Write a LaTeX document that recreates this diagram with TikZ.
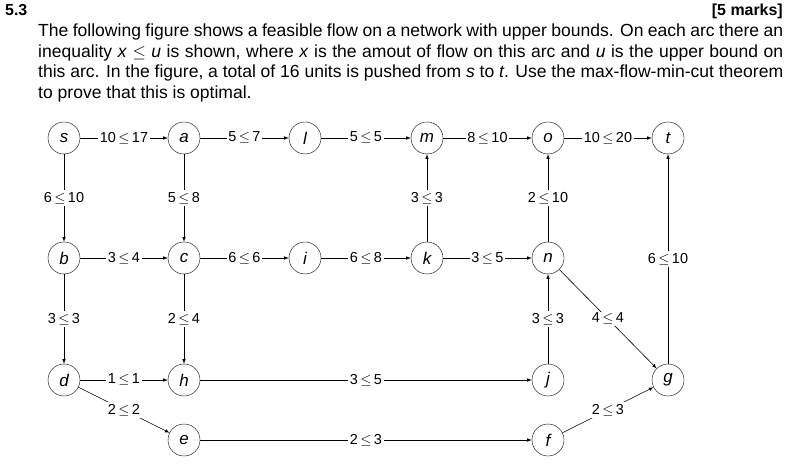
\documentclass[tikz,border=0pt]{standalone}
\usepackage{fontspec}
\setmainfont{Liberation Sans}
\begin{document}
\begin{tikzpicture}[x=1bp,y=-1bp,
  vtx/.style={circle,draw,minimum size=32bp,inner sep=0pt,font=\fontsize{17}{17}\selectfont\itshape},
  arc/.style={-latex,line width=0.6bp},
  lab/.style={fill=white,inner sep=1.5bp,font=\fontsize{14.5}{14.5}\selectfont}]
\useasboundingbox (0,0) rectangle (802,473);
\node[anchor=north west,font=\bfseries\fontsize{16}{18}\selectfont,inner sep=0pt] (num) at (5,4) {5.3};
\node[anchor=north east,font=\bfseries\fontsize{16}{18}\selectfont,inner sep=0pt] (mk) at (783,4) {[5 marks]};
\node[anchor=north west,inner sep=0pt,text width=745bp,align=justify,font=\fontsize{17.6}{20.5}\selectfont] (txt) at (38,24)
 {The following figure shows a feasible flow on a network with upper bounds. On each arc there an inequality \textit{x} $\leq$ \textit{u} is shown, where \textit{x} is the amout of flow on this arc and \textit{u} is the upper bound on this arc. In the figure, a total of 16 units is pushed from \textit{s} to \textit{t}. Use the max-flow-min-cut theorem to prove that this is optimal.};
\node[vtx] (s) at (64,138) {s};
\node[vtx] (a) at (184,138) {a};
\node[vtx] (l) at (305,138) {l};
\node[vtx] (m) at (427,138) {m};
\node[vtx] (o) at (548,138) {o};
\node[vtx] (t) at (668,138) {t};
\node[vtx] (b) at (64,258) {b};
\node[vtx] (c) at (184,258) {c};
\node[vtx] (i) at (305,258) {i};
\node[vtx] (k) at (427,258) {k};
\node[vtx] (n) at (548,258) {n};
\node[vtx] (d) at (64,380) {d};
\node[vtx] (h) at (184,380) {h};
\node[vtx] (j) at (548,380) {j};
\node[vtx] (g) at (668,380) {g};
\node[vtx] (e) at (184,440) {e};
\node[vtx] (f) at (548,440) {f};
\draw[arc] (s) -- node[lab]{10\,$\leq$\,17} (a);
\draw[arc] (a) -- node[lab]{5\,$\leq$\,7} (l);
\draw[arc] (l) -- node[lab]{5\,$\leq$\,5} (m);
\draw[arc] (m) -- node[lab]{8\,$\leq$\,10} (o);
\draw[arc] (o) -- node[lab]{10\,$\leq$\,20} (t);
\draw[arc] (s) -- node[lab]{6\,$\leq$\,10} (b);
\draw[arc] (a) -- node[lab]{5\,$\leq$\,8} (c);
\draw[arc] (k) -- node[lab]{3\,$\leq$\,3} (m);
\draw[arc] (n) -- node[lab]{2\,$\leq$\,10} (o);
\draw[arc] (g) -- node[lab]{6\,$\leq$\,10} (t);
\draw[arc] (b) -- node[lab]{3\,$\leq$\,4} (c);
\draw[arc] (c) -- node[lab]{6\,$\leq$\,6} (i);
\draw[arc] (i) -- node[lab]{6\,$\leq$\,8} (k);
\draw[arc] (k) -- node[lab]{3\,$\leq$\,5} (n);
\draw[arc] (b) -- node[lab]{3\,$\leq$\,3} (d);
\draw[arc] (c) -- node[lab]{2\,$\leq$\,4} (h);
\draw[arc] (j) -- node[lab]{3\,$\leq$\,3} (n);
\draw[arc] (n) -- node[lab]{4\,$\leq$\,4} (g);
\draw[arc] (d) -- node[lab]{1\,$\leq$\,1} (h);
\draw[arc] (h) -- node[lab]{3\,$\leq$\,5} (j);
\draw[arc] (d) -- node[lab]{2\,$\leq$\,2} (e);
\draw[arc] (e) -- node[lab]{2\,$\leq$\,3} (f);
\draw[arc] (f) -- node[lab]{2\,$\leq$\,3} (g);
\end{tikzpicture}
\end{document}
